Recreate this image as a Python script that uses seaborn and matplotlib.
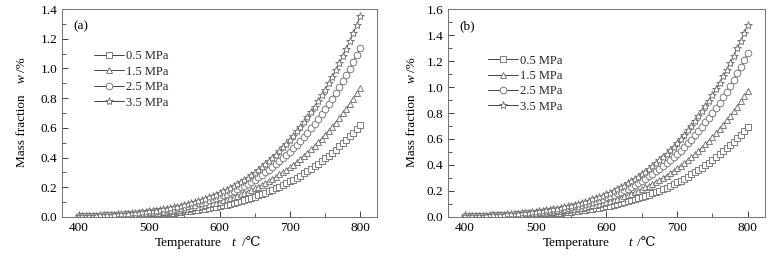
import numpy as np
import matplotlib
matplotlib.use("Agg")
import matplotlib.pyplot as plt
from matplotlib.ticker import MultipleLocator
import seaborn as sns

# Temperature axis (degC), one point every 5 degC
temperature = np.arange(400, 801, 5)

pressures = ["0.5 MPa", "1.5 MPa", "2.5 MPa", "3.5 MPa"]
markers = ["s", "^", "o", "*"]

# panel (a)
a_05 = [0.002, 0.003, 0.003, 0.003, 0.004, 0.004, 0.005, 0.005, 0.006, 0.006,
        0.007, 0.008, 0.008, 0.009, 0.010, 0.011, 0.012, 0.013, 0.014, 0.016,
        0.017, 0.018, 0.020, 0.022, 0.023, 0.025, 0.027, 0.030, 0.032, 0.034,
        0.037, 0.040, 0.043, 0.046, 0.049, 0.053, 0.057, 0.061, 0.065, 0.069,
        0.074, 0.079, 0.084, 0.090, 0.095, 0.102, 0.108, 0.115, 0.122, 0.129,
        0.137, 0.145, 0.154, 0.163, 0.172, 0.182, 0.193, 0.203, 0.215, 0.227,
        0.239, 0.252, 0.265, 0.279, 0.294, 0.309, 0.324, 0.341, 0.358, 0.375,
        0.394, 0.413, 0.433, 0.453, 0.475, 0.497, 0.520, 0.544, 0.568, 0.594,
        0.620]
a_15 = [0.003, 0.004, 0.004, 0.005, 0.005, 0.006, 0.007, 0.007, 0.008, 0.009,
        0.010, 0.011, 0.012, 0.013, 0.014, 0.015, 0.017, 0.018, 0.020, 0.022,
        0.024, 0.026, 0.028, 0.030, 0.033, 0.035, 0.038, 0.041, 0.045, 0.048,
        0.052, 0.056, 0.060, 0.064, 0.069, 0.074, 0.079, 0.085, 0.091, 0.097,
        0.104, 0.111, 0.118, 0.126, 0.134, 0.143, 0.152, 0.161, 0.171, 0.181,
        0.192, 0.204, 0.216, 0.229, 0.242, 0.256, 0.270, 0.286, 0.301, 0.318,
        0.335, 0.353, 0.372, 0.392, 0.412, 0.433, 0.455, 0.478, 0.502, 0.527,
        0.553, 0.580, 0.607, 0.636, 0.666, 0.697, 0.729, 0.763, 0.797, 0.833,
        0.870]
a_25 = [0.005, 0.005, 0.006, 0.006, 0.007, 0.008, 0.009, 0.010, 0.010, 0.012,
        0.013, 0.014, 0.015, 0.017, 0.018, 0.020, 0.022, 0.024, 0.026, 0.029,
        0.031, 0.034, 0.037, 0.040, 0.043, 0.047, 0.050, 0.054, 0.059, 0.063,
        0.068, 0.073, 0.079, 0.084, 0.091, 0.097, 0.104, 0.111, 0.119, 0.127,
        0.136, 0.145, 0.155, 0.165, 0.176, 0.187, 0.199, 0.211, 0.224, 0.238,
        0.252, 0.267, 0.283, 0.300, 0.317, 0.335, 0.354, 0.374, 0.395, 0.417,
        0.439, 0.463, 0.487, 0.513, 0.540, 0.567, 0.596, 0.627, 0.658, 0.690,
        0.724, 0.759, 0.796, 0.834, 0.873, 0.914, 0.956, 0.999, 1.045, 1.092,
        1.140]
a_35 = [0.005, 0.006, 0.007, 0.008, 0.008, 0.009, 0.010, 0.011, 0.012, 0.014,
        0.015, 0.017, 0.018, 0.020, 0.022, 0.024, 0.026, 0.028, 0.031, 0.034,
        0.037, 0.040, 0.043, 0.047, 0.051, 0.055, 0.060, 0.064, 0.069, 0.075,
        0.080, 0.087, 0.093, 0.100, 0.107, 0.115, 0.123, 0.132, 0.141, 0.151,
        0.161, 0.172, 0.183, 0.195, 0.208, 0.221, 0.235, 0.250, 0.265, 0.282,
        0.299, 0.317, 0.335, 0.355, 0.376, 0.397, 0.419, 0.443, 0.468, 0.493,
        0.520, 0.548, 0.577, 0.608, 0.639, 0.672, 0.706, 0.742, 0.779, 0.818,
        0.858, 0.899, 0.942, 0.987, 1.034, 1.082, 1.132, 1.184, 1.237, 1.293,
        1.350]

# panel (b)
b_05 = [0.003, 0.003, 0.003, 0.004, 0.004, 0.005, 0.005, 0.006, 0.006, 0.007,
        0.008, 0.008, 0.009, 0.010, 0.011, 0.012, 0.013, 0.015, 0.016, 0.017,
        0.019, 0.020, 0.022, 0.024, 0.026, 0.028, 0.030, 0.033, 0.035, 0.038,
        0.041, 0.044, 0.048, 0.051, 0.055, 0.059, 0.063, 0.067, 0.072, 0.077,
        0.082, 0.088, 0.094, 0.100, 0.106, 0.113, 0.120, 0.128, 0.136, 0.144,
        0.153, 0.162, 0.171, 0.181, 0.192, 0.203, 0.214, 0.226, 0.239, 0.252,
        0.266, 0.280, 0.295, 0.311, 0.327, 0.343, 0.361, 0.379, 0.398, 0.418,
        0.438, 0.460, 0.482, 0.505, 0.528, 0.553, 0.578, 0.605, 0.632, 0.661,
        0.690]
b_15 = [0.004, 0.004, 0.005, 0.005, 0.006, 0.007, 0.007, 0.008, 0.009, 0.010,
        0.011, 0.012, 0.013, 0.014, 0.016, 0.017, 0.019, 0.020, 0.022, 0.024,
        0.026, 0.029, 0.031, 0.034, 0.037, 0.040, 0.043, 0.046, 0.050, 0.054,
        0.058, 0.062, 0.067, 0.072, 0.077, 0.083, 0.089, 0.095, 0.101, 0.108,
        0.116, 0.123, 0.132, 0.140, 0.149, 0.159, 0.169, 0.180, 0.191, 0.202,
        0.215, 0.227, 0.241, 0.255, 0.270, 0.285, 0.301, 0.318, 0.336, 0.354,
        0.374, 0.394, 0.415, 0.437, 0.459, 0.483, 0.508, 0.533, 0.560, 0.587,
        0.616, 0.646, 0.677, 0.709, 0.743, 0.777, 0.813, 0.850, 0.889, 0.929,
        0.970]
b_25 = [0.005, 0.006, 0.006, 0.007, 0.008, 0.009, 0.010, 0.011, 0.012, 0.013,
        0.014, 0.015, 0.017, 0.019, 0.020, 0.022, 0.024, 0.027, 0.029, 0.032,
        0.034, 0.037, 0.040, 0.044, 0.048, 0.051, 0.056, 0.060, 0.065, 0.070,
        0.075, 0.081, 0.087, 0.093, 0.100, 0.107, 0.115, 0.123, 0.132, 0.141,
        0.150, 0.160, 0.171, 0.182, 0.194, 0.206, 0.219, 0.233, 0.248, 0.263,
        0.279, 0.295, 0.313, 0.331, 0.351, 0.371, 0.391, 0.414, 0.436, 0.460,
        0.485, 0.511, 0.539, 0.567, 0.596, 0.627, 0.659, 0.692, 0.727, 0.763,
        0.800, 0.839, 0.880, 0.921, 0.965, 1.010, 1.056, 1.105, 1.155, 1.206,
        1.260]
b_35 = [0.006, 0.007, 0.007, 0.008, 0.009, 0.010, 0.011, 0.012, 0.014, 0.015,
        0.017, 0.018, 0.020, 0.022, 0.024, 0.026, 0.029, 0.031, 0.034, 0.037,
        0.040, 0.044, 0.048, 0.052, 0.056, 0.060, 0.065, 0.070, 0.076, 0.082,
        0.088, 0.095, 0.102, 0.110, 0.118, 0.126, 0.135, 0.145, 0.155, 0.165,
        0.177, 0.188, 0.201, 0.214, 0.228, 0.242, 0.258, 0.274, 0.291, 0.309,
        0.327, 0.347, 0.368, 0.389, 0.412, 0.435, 0.460, 0.486, 0.513, 0.541,
        0.570, 0.601, 0.633, 0.666, 0.701, 0.737, 0.774, 0.813, 0.854, 0.896,
        0.940, 0.986, 1.033, 1.082, 1.133, 1.186, 1.241, 1.298, 1.356, 1.417,
        1.480]

sns.set_style("ticks")
plt.rcParams["font.family"] = ["Liberation Serif", "DejaVu Serif"]

fig = plt.figure(figsize=(7.78, 2.58), dpi=100)
ax_a = fig.add_axes([0.0797, 0.159, 0.405, 0.806])
ax_b = fig.add_axes([0.576, 0.159, 0.407, 0.806])

# per panel: axes, series, tag, y max, legend anchor, y-label x,
# x-label pieces x (right of "Temperature", "t", left of "/℃")
panels = [
    (ax_a, [a_05, a_15, a_25, a_35], "(a)", 1.4, (0.085, 0.825), -0.127,
     (0.508, 0.543, 0.572)),
    (ax_b, [b_05, b_15, b_25, b_35], "(b)", 1.6, (0.11, 0.805), -0.114,
     (0.51, 0.575, 0.595)),
]

txt = dict(fontsize=9.5, color="black")

for ax, series, tag, ytop, leg_pos, ylab_x, xlab in panels:
    for vals, lab, mk in zip(series, pressures, markers):
        ms = 6 if mk == "*" else 4.8
        sns.lineplot(x=temperature, y=vals, ax=ax, color="0.15", lw=0.6,
                     marker=mk, ms=ms, mfc="white", mec="0.45", mew=0.65,
                     label=lab)
    ax.set_xlim(376, 824)
    ax.set_ylim(0, ytop)
    ax.xaxis.set_major_locator(MultipleLocator(100))
    ax.xaxis.set_minor_locator(MultipleLocator(50))
    ax.yaxis.set_major_locator(MultipleLocator(0.2))
    ax.yaxis.set_minor_locator(MultipleLocator(0.1))
    ax.yaxis.set_major_formatter(plt.FormatStrFormatter("%.1f"))
    ax.tick_params(which="both", direction="in", labelsize=9.5,
                   colors="0.25", labelcolor="black")
    ax.tick_params(which="major", length=4, width=0.7)
    ax.tick_params(which="minor", length=3, width=0.6)
    for s in ax.spines.values():
        s.set_color("0.45")
        s.set_linewidth(0.7)
    ax.set_xlabel("")
    ax.set_ylabel("")

    # x label: "Temperature    t /℃" (t in italics)
    ax.text(xlab[0], -0.125, "Temperature", transform=ax.transAxes,
            ha="right", va="center", **txt)
    ax.text(xlab[1], -0.125, "t", transform=ax.transAxes, style="italic",
            ha="center", va="center", **txt)
    ax.text(xlab[2], -0.125, "/℃", transform=ax.transAxes,
            ha="left", va="center", **txt)

    # y label: "Mass fraction    w /%" (w in italics)
    ax.text(ylab_x, 0.24, "Mass fraction", transform=ax.transAxes,
            rotation=90, ha="center", va="bottom", **txt)
    ax.text(ylab_x, 0.668, "w", transform=ax.transAxes, rotation=90,
            style="italic", ha="center", va="center", **txt)
    ax.text(ylab_x, 0.697, "/%", transform=ax.transAxes, rotation=90,
            ha="center", va="bottom", **txt)

    ax.text(0.035, 0.915, tag, transform=ax.transAxes, ha="left",
            va="center", **txt)
    ax.legend(loc="upper left", bbox_to_anchor=leg_pos, frameon=False,
              fontsize=9, handlelength=2.4, handletextpad=0.15,
              labelspacing=0.27, borderaxespad=0)

fig.savefig("out.png", dpi=100)
